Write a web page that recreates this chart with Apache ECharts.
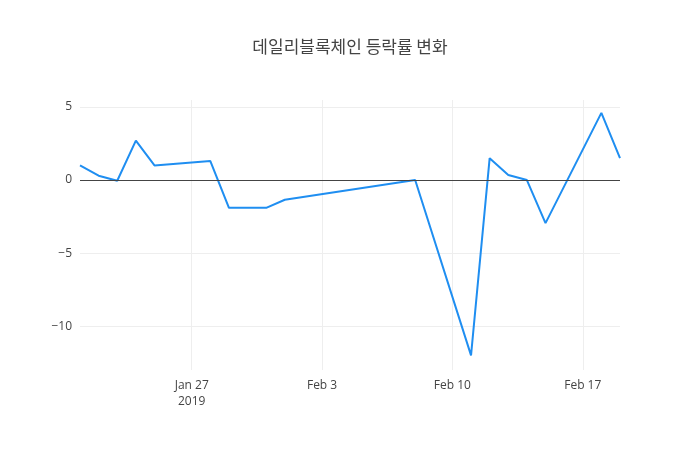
<!DOCTYPE html>
<html><head><meta charset="utf-8">
<script src="https://cdn.jsdelivr.net/npm/echarts@6/dist/echarts.min.js"></script>
<style>body{margin:0}#c{width:700px;height:450px}</style></head>
<body><div id="c"></div>
<script>
const dates = ['2019-01-21','2019-01-22','2019-01-23','2019-01-24','2019-01-25','2019-01-28','2019-01-29','2019-01-31','2019-02-01','2019-02-08','2019-02-11','2019-02-12','2019-02-13','2019-02-14','2019-02-15','2019-02-18','2019-02-19'];
const values = [1.0,0.3,-0.05,2.7,1.0,1.3,-1.9,-1.9,-1.35,0,-12.0,1.5,0.35,0,-2.95,4.6,1.5];
const yTicks = [-10,-5,0,5];
const xTicks = ['2019-01-27','2019-02-03','2019-02-10','2019-02-17'];
const xLabels = ['Jan 27\n2019','Feb 3','Feb 10','Feb 17'];
const DAY = 86400000;
const t0 = Date.UTC(2019,0,21);
const dayNum = d => (Date.parse(d+'T00:00:00Z') - t0)/DAY;
const xt = xTicks.map(dayNum);
const chart = echarts.init(document.getElementById('c'));
chart.setOption({
  title:{text:'데일리블록체인 등락률 변화',left:'center',top:33,textStyle:{fontSize:17,fontWeight:'normal',color:'#444',fontFamily:'Noto Sans CJK KR'}},
  grid:{left:80,right:80,top:100,bottom:80},
  xAxis:{type:'value',min:0,max:29,
    axisLine:{show:false},axisTick:{show:false,customValues:xt},
    axisLabel:{customValues:xt,color:'#444',fontSize:12,fontFamily:'Open Sans',lineHeight:16,
      formatter:v=>xLabels[xt.indexOf(v)]||''},
    splitLine:{show:true,lineStyle:{color:'#eee'}}},
  yAxis:{type:'value',min:-13.0,max:5.48,
    axisLine:{show:false},axisTick:{show:false,customValues:yTicks},
    axisLabel:{customValues:yTicks,color:'#444',fontSize:12,fontFamily:'Open Sans',formatter:v=>String(v).replace('-','\u2212')},
    splitLine:{show:true,lineStyle:{color:'#eee'}}},
  series:[{type:'line',data:dates.map((d,i)=>[dayNum(d),values[i]]),
    showSymbol:false,lineStyle:{color:'#1f8ef1',width:2},itemStyle:{color:'#1f8ef1'},
    markLine:{silent:true,symbol:'none',label:{show:false},lineStyle:{color:'#444',width:1,type:'solid'},data:[{yAxis:0}]}}]
});
</script></body></html>
